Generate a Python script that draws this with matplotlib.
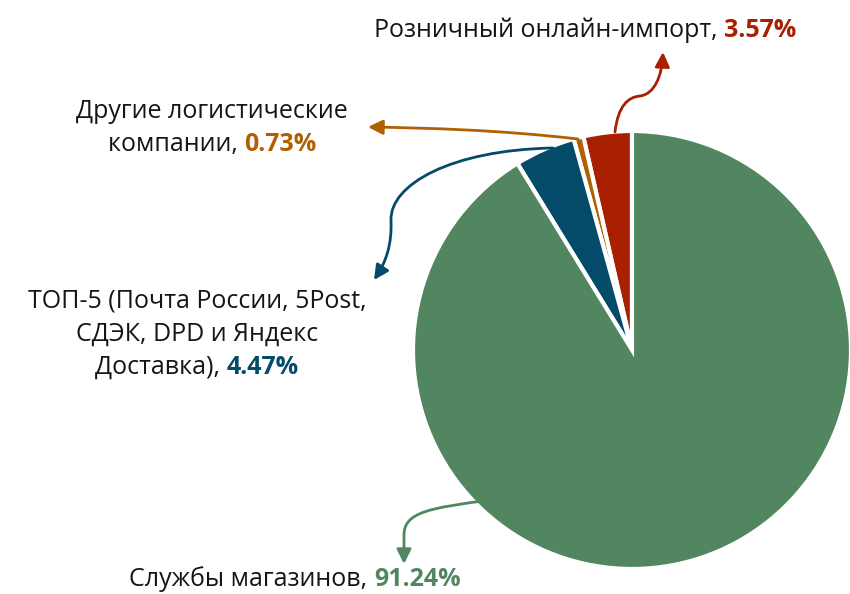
import matplotlib
matplotlib.use("Agg")
import matplotlib.pyplot as plt
from matplotlib.patches import FancyArrowPatch
from matplotlib.path import Path

# data, counter-clockwise from the top
categories = ["Розничный онлайн-импорт", "Другие логистические\nкомпании",
              "ТОП-5 (Почта России, 5Post,\nСДЭК, DPD и Яндекс\nДоставка)", "Службы магазинов"]
shares = [3.57, 0.73, 4.47, 91.24]
slice_colors = ["#a82000", "#b06000", "#034b68", "#518660"]

W, H = 850, 594
plt.rcParams['font.family'] = ['Open Sans', 'DejaVu Sans']

fig = plt.figure(figsize=(W / 100, H / 100), dpi=100)
ax = fig.add_axes([0, 0, 1, 1])

ax.pie(shares, colors=slice_colors, startangle=90, counterclock=True,
       center=(632, H - 350), radius=219,
       wedgeprops=dict(edgecolor='white', linewidth=3))
ax.set_xlim(0, W)
ax.set_ylim(0, H)
ax.set_aspect('equal')
ax.axis('off')

renderer = fig.canvas.get_renderer()
FS = 18


def label(text, pct, color, cx, y_first, dy):
    # centred lines, last one ends with the bold coloured percentage
    lines = text.split("\n")
    for i, line in enumerate(lines[:-1]):
        ax.text(cx, H - (y_first + i * dy), line, ha='center', va='baseline',
                fontsize=FS, color='#151515')
    y = H - (y_first + (len(lines) - 1) * dy)
    t1 = ax.text(0, y, lines[-1] + ", ", ha='left', va='baseline', fontsize=FS, color='#151515')
    t2 = ax.text(0, y, f"{pct:.2f}%", ha='left', va='baseline', fontsize=FS,
                 color=color, fontweight='bold')
    w1 = t1.get_window_extent(renderer).width
    w2 = t2.get_window_extent(renderer).width
    x0 = cx - (w1 + w2) / 2
    t1.set_x(x0)
    t2.set_x(x0 + w1)


def curve_arrow(pts, color):
    # pts in image pixel coords: start, then groups of 3 for cubic segments
    verts = [(x, H - y) for x, y in pts]
    codes = [Path.MOVETO] + [Path.CURVE4] * (len(verts) - 1)
    arr = FancyArrowPatch(path=Path(verts, codes), arrowstyle='-|>',
                          mutation_scale=22, color=color, lw=2)
    ax.add_patch(arr)


label(categories[0], shares[0], slice_colors[0], 585, 37, 33)
label(categories[1], shares[1], slice_colors[1], 212, 118, 33)
label(categories[2], shares[2], slice_colors[2], 197, 308, 33)
label(categories[3], shares[3], slice_colors[3], 295, 586, 33)

curve_arrow([(615, 132), (618, 106), (628, 97), (640, 96),
             (655, 94), (662, 75), (663, 52)], slice_colors[0])
curve_arrow([(578, 139), (500, 130), (430, 128), (368, 127)], slice_colors[1])
curve_arrow([(553, 148), (450, 150), (390, 185), (391, 220),
             (392, 245), (386, 262), (374, 280)], slice_colors[2])
curve_arrow([(490, 500), (430, 508), (404, 512), (404, 535),
             (404, 545), (404, 555), (404, 564)], slice_colors[3])

fig.savefig("out.png", dpi=100)
